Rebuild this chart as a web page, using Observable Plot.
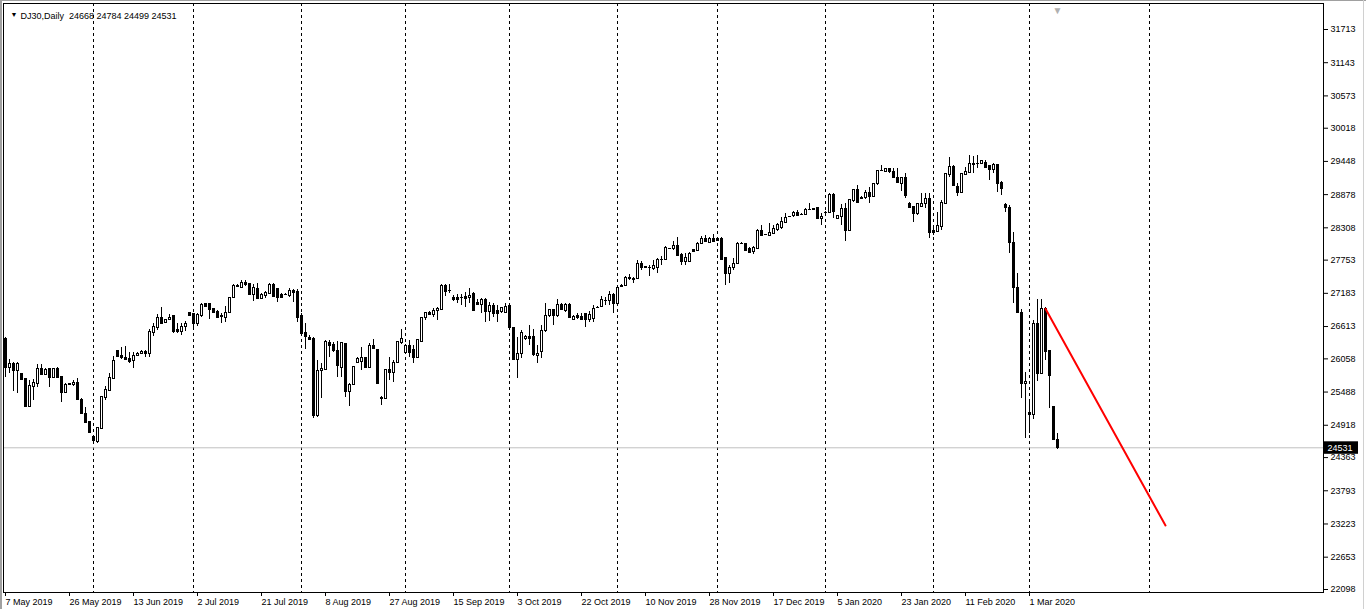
<!DOCTYPE html>
<html><head><meta charset="utf-8">
<script src="https://cdn.jsdelivr.net/npm/d3@7"></script>
<script src="https://cdn.jsdelivr.net/npm/@observablehq/plot@0.6"></script>
<style>
html,body{margin:0;padding:0;background:#fff;width:1366px;height:609px;overflow:hidden}
#wrap{position:relative;width:1366px;height:609px}
#wrap svg{position:absolute;left:0;top:0}
.edge{position:absolute;background:#a0a0a0}
</style></head>
<body><div id="wrap"></div>
<div class="edge" style="left:0;top:0;width:2px;height:609px"></div>
<div class="edge" style="left:0;top:0;width:1366px;height:1px"></div>
<div class="edge" style="left:1363px;top:0;width:1px;height:609px;background:#d0d0d0"></div>
<script>
const symbol = "DJ30";
const timeframe = "Daily";

const opens = [26400,25915,25975,25850,25800,25715,25240,25575,25640,25885,25790,25885,25745,25895,25750,25485,25625,25620,25660,25365,25115,24975,24725,24645,24870,25400,25515,25715,26200,26115,26075,26060,26030,26115,26145,26190,26145,26515,26590,26760,26690,26730,26800,26555,26535,26615,26855,26830,26670,26800,27003,27003,26917,26877,26800,26774,26860,27106,27300,27290,27375,27345,27163,27260,27089,27146,27175,27335,27260,27157,27165,27146,27232,27220,26800,26516,26430,26402,25085,25850,25870,26345,26305,26202,25915,26328,25503,25618,26002,26019,26076,25915,26288,26213,25400,25383,25870,25830,26002,26345,26173,26288,26213,26087,26362,26763,26860,26820,26888,26900,27317,27225,27106,27117,27117,27129,27106,27186,27031,26990,27071,26877,26975,26888,26877,26860,26975,26602,26041,26144,26402,26442,26442,26116,26190,26545,26802,26900,26802,26992,26888,26992,26728,26802,26785,26831,26728,26745,26945,26957,27060,27060,27163,27003,27300,27318,27430,27432,27432,27690,27644,27630,27604,27632,27758,27758,27950,27947,28005,27850,27735,27735,27930,27919,28045,28119,28062,28119,28119,28119,27792,27518,27621,27690,28045,28033,27947,27907,27947,28262,28193,28176,28205,28273,28308,28405,28502,28520,28577,28537,28537,28617,28630,28651,28462,28577,28577,28880,28463,28510,28634,28262,28777,28960,28812,28823,28920,28846,29064,29293,29281,29321,29281,29178,29075,29178,28732,28675,28548,28675,28720,28806,28262,28245,28331,28720,29224,29361,29018,28920,29224,29264,29418,29407,29418,29436,29378,29304,29396,29092,28709,28651,28062,27278,26860,25641,25143,25103,26660,25812,26917,26202,25240,24668];
const highs = [26430,26040,26000,25990,25810,25720,25690,25700,25960,25960,25900,25900,25900,25905,25760,25630,25640,25690,25715,25370,25220,24990,24740,24880,25420,25585,25810,26090,26210,26260,26270,26170,26175,26160,26200,26200,26555,26660,26820,26945,26740,26820,26810,26670,26660,26705,26860,26840,26842,27003,27015,27010,26920,26890,26842,26957,27117,27335,27330,27403,27403,27350,27335,27346,27174,27220,27357,27346,27270,27175,27175,27260,27243,27243,26831,26660,26453,26420,26030,25973,26373,26373,26345,26362,26345,26330,25629,25927,26076,26247,26080,26316,26385,26215,25412,25870,26076,26030,26362,26556,26305,26373,26288,26385,26763,26860,26865,26917,26946,27335,27335,27335,27146,27163,27163,27203,27260,27190,27070,27089,27089,27031,27014,26975,26946,27003,27003,26605,26431,26545,26460,26631,26556,26288,26631,27003,26900,26905,27071,27014,27003,27014,26802,26843,26831,26843,26877,26975,26960,27129,27117,27220,27175,27290,27330,27472,27506,27460,27746,27735,27650,27660,27746,27775,27815,27987,27960,28079,28147,27862,27862,27890,27935,28062,28159,28176,28147,28193,28125,28147,27793,27661,27775,28062,28050,28045,27964,27987,28273,28348,28200,28377,28348,28388,28491,28548,28510,28594,28605,28550,28634,28720,28635,28663,28548,28580,28892,28892,28520,28709,28720,28789,28960,29035,28846,28950,29006,29075,29293,29378,29321,29325,29321,29321,29178,29247,28740,28680,28720,28903,28892,28892,28348,28577,28778,29247,29510,29378,29075,29247,29338,29550,29533,29550,29470,29464,29380,29407,29400,29095,28731,28691,28234,27518,26900,25830,25355,26717,27072,27072,26935,26205,25245,24784];
const lows = [25745,25800,25505,25460,25700,25215,25230,25345,25560,25770,25780,25560,25730,25735,25315,25470,25610,25585,25345,25100,24955,24785,24600,24610,24860,25345,25505,25705,26100,26040,26040,25975,25900,26100,26130,26085,26075,26440,26545,26670,26680,26720,26490,26490,26460,26535,26805,26555,26614,26762,26960,26728,26860,26762,26660,26688,26842,27100,27280,27260,27300,27145,27048,27089,27071,27089,27157,27117,27031,27110,27160,27117,27031,26688,26460,26213,26373,25030,25057,25383,25858,26076,26173,25744,25744,25400,25240,25601,25973,25858,25904,25887,26220,25618,25257,25380,25686,25658,25984,26305,26145,26087,25984,26080,26360,26717,26820,26774,26717,26888,27129,27186,27048,27003,26975,26935,27014,26877,26975,26831,26688,26705,26774,26688,26831,26831,26573,26030,25715,26058,26373,26288,26099,25973,26058,26516,26774,26631,26774,26900,26860,26745,26717,26728,26717,26590,26688,26688,26935,26935,26975,26975,26843,26975,27295,27300,27403,27346,27415,27575,27620,27472,27575,27529,27661,27747,27940,27919,27833,27661,27661,27718,27905,27919,28033,28062,28045,28079,28090,27747,27318,27346,27575,27678,28035,27919,27861,27850,27930,28176,28185,28159,28193,28250,28273,28388,28495,28491,28508,28530,28520,28605,28625,28462,28348,28570,28560,28460,28450,28348,28079,28250,28750,28732,28790,28789,28732,28823,29035,29281,29275,29235,29150,29075,28938,28806,28650,28405,28520,28675,28635,28119,28177,28234,28262,28709,29178,29018,28846,28915,29207,29247,29247,29321,29410,29321,29121,29247,28921,28863,28577,27862,27003,26843,25372,24686,24772,25012,25675,25805,26030,25200,24657,24499];
const closes = [25915,25985,25850,25975,25710,25240,25600,25660,25885,25790,25875,25745,25885,25745,25485,25620,25630,25660,25355,25115,24970,24790,24655,24875,25410,25525,25730,26030,26105,26075,26045,26020,26115,26155,26190,26145,26535,26615,26760,26670,26735,26775,26535,26535,26620,26670,26810,26670,26814,26985,26963,26900,26860,26774,26790,26860,27106,27317,27325,27375,27335,27163,27289,27089,27157,27203,27335,27129,27117,27117,27163,27232,27203,26774,26500,26442,26396,25085,25858,25887,26362,26288,26202,25944,26345,25503,25618,25927,26059,26076,25915,26288,26230,25629,25372,25870,25830,26002,26362,26402,26287,26173,26087,26385,26763,26848,26820,26888,26917,27317,27220,27232,27083,27083,27106,27089,27146,26888,26990,27071,26877,26975,26831,26831,26935,26957,26591,26041,26144,26516,26442,26402,26133,26156,26545,26802,26900,26802,26992,26900,26992,26774,26785,26763,26728,26728,26820,26917,26946,27071,27060,27163,27003,27290,27320,27449,27450,27426,27690,27632,27621,27632,27661,27758,27758,27964,27947,28005,27833,27735,27793,27862,27907,28045,28130,28079,28119,28079,28090,27758,27518,27632,27690,28045,28045,27919,27890,27964,28262,28176,28193,28233,28290,28365,28422,28491,28502,28577,28520,28537,28617,28617,28634,28462,28502,28577,28880,28594,28520,28634,28262,28789,28960,28750,28823,28920,28846,29064,29293,29293,29321,29281,29178,29092,29178,28863,28652,28548,28720,28732,28806,28234,28234,28348,28749,29235,29361,29035,28920,29247,29281,29418,29396,29407,29464,29350,29304,29396,29064,28978,28651,28062,27278,26860,25641,25675,25103,26660,25812,26917,26190,25773,24669,24531];

// price-axis labels (right side)
const priceTicks = [22098,22653,23223,23793,24363,24918,25488,26058,26613,27183,27753,28308,28878,29448,30018,30573,31143,31713];
// time-axis labels (bar index -> label)
const dateTickIdx = [0,16,32,48,64,80,96,112,128,144,160,176,192,208,224,240,256];
const dateLabels = ["7 May 2019","26 May 2019","13 Jun 2019","2 Jul 2019","21 Jul 2019","8 Aug 2019","27 Aug 2019","15 Sep 2019","3 Oct 2019","22 Oct 2019","10 Nov 2019","28 Nov 2019","17 Dec 2019","5 Jan 2020","23 Jan 2020","11 Feb 2020","1 Mar 2020"];
// month period separators (bar index)
const separatorIdx = [22,47,74,100,126,153,178,205,232,256,286];
// red trend line (bar index, price)
const trendIdx = [260, 290];
const trendPrice = [26917, 23197];

const bars = opens.map((o, i) => ({i, o, h: highs[i], l: lows[i], c: closes[i]}));
const bodies = bars.filter(d => d.o !== d.c);
const dojis = bars.filter(d => d.o === d.c);
const trend = trendIdx.map((x, k) => ({x, y: trendPrice[k]}));
const last = bars[bars.length - 1];
const header = `${symbol},${timeframe}\u00a0\u00a0${last.o} ${last.h} ${last.l} ${last.c}`;
const labelMap = new Map(dateTickIdx.map((d, k) => [d, dateLabels[k]]));

const W = 1366, H = 609, mL = 3, mT = 3, mR = 43, mB = 17;
const pxPerBar = 4;
const xMax = (W - mR - mL) / pxPerBar - 0.5;
// vertical price scale: 22098 at 589px, 31713 at 29px
const unitsPerPx = (31713 - 22098) / (589 - 29);
const yLo = 22098 - (H - mB - 589) * unitsPerPx;
const yHi = 22098 + (589 - mT) * unitsPerPx;

const chart = Plot.plot({
  width: W, height: H,
  marginLeft: mL, marginTop: mT, marginRight: mR, marginBottom: mB,
  x: {type: "linear", domain: [-0.5, xMax], axis: null},
  y: {type: "linear", domain: [yLo, yHi], axis: null},
  style: {fontFamily: "'Liberation Sans', Arial, sans-serif", fontSize: "9px", color: "#000", background: "#fff", overflow: "visible"},
  marks: [
    Plot.ruleX(separatorIdx, {x: d => d, stroke: "#000", strokeDasharray: "3,3"}),
    Plot.ruleY([last.c], {stroke: "#c0c0c0"}),
    Plot.ruleX(bars, {x: "i", y1: "l", y2: "h", stroke: "#000", shapeRendering: "crispEdges"}),
    Plot.rect(bodies, {x1: d => d.i - 0.25, x2: d => d.i + 0.25, y1: "o", y2: "c",
      fill: d => d.c > d.o ? "#fff" : "#000", stroke: "#000", dx: 0.5, dy: 0.5, shapeRendering: "crispEdges"}),
    Plot.ruleY(dojis, {y: "o", x1: d => d.i - 0.375, x2: d => d.i + 0.375, stroke: "#000", shapeRendering: "crispEdges"}),
    Plot.line(trend, {x: "x", y: "y", stroke: "#ff0000", strokeWidth: 2}),
    Plot.frame({stroke: "#000"}),
    Plot.axisY(priceTicks, {anchor: "right", tickSize: 4, tickPadding: 3, tickFormat: d => String(d), fontSize: 9}),
    Plot.axisX(dateTickIdx, {anchor: "bottom", tickSize: 4, tickPadding: 2, textAnchor: "start", tickFormat: d => labelMap.get(d), fontSize: 9}),
    Plot.rect([last], {x1: xMax, x2: xMax + 35 / pxPerBar, y1: d => d.c - 6.5 * unitsPerPx, y2: d => d.c + 6 * unitsPerPx, fill: "#000"}),
    Plot.text([last], {x: xMax, y: "c", dx: 4, text: d => String(d.c), fill: "#fff", textAnchor: "start", fontSize: 9}),
    Plot.text([header], {frameAnchor: "top-left", dx: 17, dy: 9, text: d => d, textAnchor: "start", fontSize: 9}),
    Plot.text(["\u25BC"], {frameAnchor: "top-left", dx: 7, dy: 9, text: d => d, fontSize: 7}),
    Plot.text([last], {x: "i", frameAnchor: "top", dy: 3, text: () => "\u25BC", fill: "#b0b0b0", fontSize: 10})
  ]
});
document.getElementById("wrap").appendChild(chart);
</script>
</body></html>
